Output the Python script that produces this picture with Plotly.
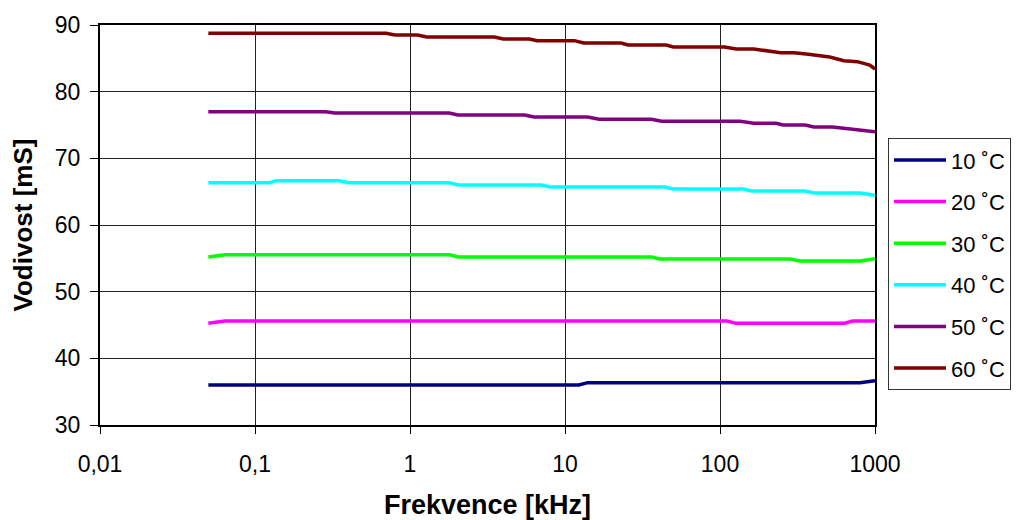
import plotly.graph_objects as go

# Frequencies [kHz] and conductivity [mS] per temperature (breakpoints)
f_10 = [0.05, 12.3, 14.0, 800, 1000]
v_10 = [36.0, 36.0, 36.35, 36.35, 36.65]

f_20 = [0.05, 0.064, 111, 127, 630, 716, 1000]
v_20 = [45.25, 45.6, 45.6, 45.25, 45.25, 45.6, 45.6]

f_30 = [0.05, 0.064, 1.79, 2.04, 36, 41, 283, 325, 800, 1000]
v_30 = [55.2, 55.55, 55.55, 55.2, 55.2, 54.9, 54.9, 54.6, 54.6, 54.95]

f_40 = [0.05, 0.124, 0.137, 0.35, 0.40, 1.79, 2.04, 7.0, 8.0, 44, 50, 141, 159, 355, 403, 800, 1000]
v_40 = [66.35, 66.35, 66.65, 66.65, 66.35, 66.35, 66.0, 66.0, 65.7, 65.7, 65.4, 65.4, 65.1, 65.1, 64.8, 64.8, 64.45]

f_50 = [0.05, 0.286, 0.327, 1.79, 2.04, 5.5, 6.3, 14, 16.6, 36, 42, 135, 165, 230, 255, 355, 403, 532, 1000]
v_50 = [77.0, 77.0, 76.8, 76.8, 76.5, 76.5, 76.2, 76.2, 75.85, 75.85, 75.55, 75.55, 75.25, 75.25, 75.0, 75.0, 74.7, 74.7, 74.0]

f_60 = [0.05, 0.70, 0.80, 1.12, 1.28, 3.5, 4.0, 5.9, 6.6, 11.5, 13.2, 23, 25.5, 45, 50, 107, 127, 165, 246, 300, 372, 510, 630, 770, 925, 1000]
v_60 = [88.75, 88.75, 88.5, 88.5, 88.2, 88.2, 87.9, 87.9, 87.65, 87.65, 87.3, 87.3, 87.0, 87.0, 86.7, 86.7, 86.4, 86.4, 85.85, 85.85, 85.6, 85.2, 84.65, 84.5, 84.0, 83.4]

names = ["10 ˚C", "20 ˚C", "30 ˚C", "40 ˚C", "50 ˚C", "60 ˚C"]
colors = ["#000080", "#FF00FF", "#00FF00", "#00FFFF", "#800080", "#800000"]
freqs = [f_10, f_20, f_30, f_40, f_50, f_60]
vals = [v_10, v_20, v_30, v_40, v_50, v_60]

x_tickvals = [0.01, 0.1, 1, 10, 100, 1000]
x_ticktext = ["0,01", "0,1", "1", "10", "100", "1000"]
y_tickvals = [30, 40, 50, 60, 70, 80, 90]

fig = go.Figure()
for n, c, fx, vy in zip(names, colors, freqs, vals):
    fig.add_trace(go.Scatter(x=fx, y=vy, mode="lines", name=n, legendgroup=n,
                             line=dict(color=c, width=3.5)))

font = "Liberation Sans, Arial, sans-serif"
# page body has an 8px margin, so the figure is offset by 8px
fig.update_layout(
    width=1011, height=512,
    margin=dict(l=92, r=144, t=17, b=95, autoexpand=False),
    paper_bgcolor="white", plot_bgcolor="white",
    font=dict(family=font, size=23, color="black"),
    showlegend=True,
    legend=dict(x=1.0168, y=0.717, xanchor="left", yanchor="top",
                bordercolor="#333333", borderwidth=1, bgcolor="white",
                font=dict(size=22), tracegroupgap=10, itemwidth=52),
    xaxis=dict(type="log", range=[-2, 3], tickvals=x_tickvals, ticktext=x_ticktext,
               showgrid=True, gridcolor="#222222", gridwidth=1,
               showline=True, linecolor="black", linewidth=2, mirror=True,
               ticks="outside", ticklen=7, tickcolor="black",
               ticklabelstandoff=10, zeroline=False,
               title=dict(text="<b>Frekvence [kHz]</b>", font=dict(size=27), standoff=22)),
    yaxis=dict(range=[30, 90], tickvals=y_tickvals,
               showgrid=True, gridcolor="#222222", gridwidth=1,
               showline=True, linecolor="black", linewidth=2, mirror=True,
               ticks="outside", ticklen=8, tickcolor="black",
               ticklabelstandoff=5, zeroline=False,
               title=dict(text="<b>Vodivost [mS]</b>", font=dict(size=26), standoff=18)),
)

fig.write_html("out.html")
